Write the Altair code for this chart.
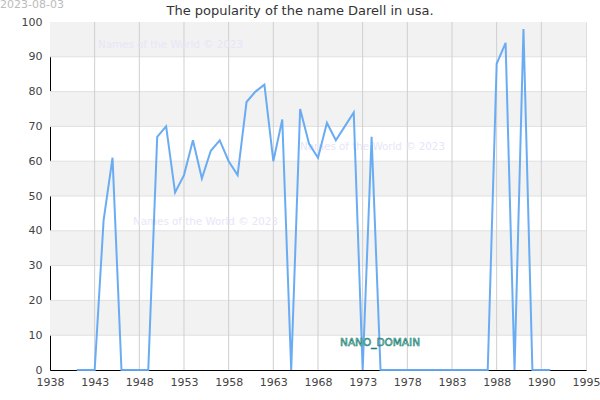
import altair as alt
import pandas as pd

# x positions (category index) and popularity values
positions = list(range(3, 57))
values = [0, 0, 0, 43, 61, 0, 0, 0, 0, 67, 70, 51, 56, 66, 55, 63, 66, 60, 56, 77,
          80, 82, 60, 72, 0, 75, 65, 61, 71, 66, 70, 74, 0, 67, 0, 0, 0, 0, 0, 0,
          0, 0, 0, 0, 0, 0, 0, 88, 94, 0, 98, 0, 0, 0]
tick_positions = [0, 5, 10, 15, 20, 25, 30, 35, 40, 45, 50, 55, 60]
tick_labels = ["1938", "1943", "1948", "1953", "1958", "1963", "1968", "1973",
               "1978", "1983", "1988", "1990", "1995"]
y_ticks = [0, 10, 20, 30, 40, 50, 60, 70, 80, 90, 100]
band_lo = [10, 30, 50, 70, 90]
band_hi = [20, 40, 60, 80, 100]
hgrid = [10, 20, 30, 40, 50, 60, 70, 80, 90]
vgrid = [5, 10, 15, 20, 25, 30, 35, 40, 45, 50, 55]

W, H = 536, 348

df = pd.DataFrame({"pos": positions, "value": values})
xscale = alt.Scale(domain=[0, 60], nice=False, zero=False)
yscale = alt.Scale(domain=[0, 100], nice=False)

label_expr = "[" + ",".join("'%s'" % t for t in tick_labels) + "][round(datum.value/5)]"

x_axis = alt.Axis(values=tick_positions, labelExpr=label_expr, title=None,
                  grid=False, ticks=False, domainColor="black",
                  labelColor="#444", labelFontSize=11, labelPadding=6,
                  labelFont="DejaVu Sans", labelFlush=False, labelOverlap=False)
y_axis = alt.Axis(values=y_ticks, title=None, grid=False, ticks=False,
                  domainColor="black", labelColor="#444", labelFontSize=11,
                  labelPadding=8, labelFont="DejaVu Sans", labelOverlap=False,
                  tickCount=11)

bands = alt.Chart(pd.DataFrame({"lo": band_lo, "hi": band_hi})).mark_rect(
    color="#f2f2f2"
).encode(
    x=alt.value(0), x2=alt.value(W),
    y=alt.Y("lo:Q", scale=yscale, axis=y_axis), y2="hi:Q",
)

hrules = alt.Chart(pd.DataFrame({"v": hgrid})).mark_rule(
    color="#e0e0e0", strokeWidth=1
).encode(y=alt.Y("v:Q", scale=yscale, axis=y_axis))

vrules = alt.Chart(pd.DataFrame({"v": vgrid})).mark_rule(
    color="#cfcfcf", strokeWidth=1
).encode(x=alt.X("v:Q", scale=xscale, axis=x_axis))

line = alt.Chart(df).mark_line(color="#62a8f2", strokeWidth=2, opacity=0.95).encode(
    x=alt.X("pos:Q", scale=xscale, axis=x_axis),
    y=alt.Y("value:Q", scale=yscale, axis=y_axis),
)

def txt(s, x, y, **kw):
    return alt.Chart(pd.DataFrame({"t": [s]})).mark_text(**kw).encode(
        x=alt.value(x), y=alt.value(y), text="t:N")

wm_kw = dict(align="left", baseline="middle", fontSize=10.3, color="#e6e6f8",
             font="DejaVu Sans")
wm1 = txt("Names of the World © 2023", 98 - 50, 45 - 22, **wm_kw)
wm2 = txt("Names of the World © 2023", 133 - 50, 222 - 22, **wm_kw)
wm3 = txt("Names of the World © 2023", 300 - 50, 147 - 22, **wm_kw)

title = txt("The popularity of the name Darell in usa.", 300 - 50, 15 - 22,
            align="center", baseline="alphabetic", fontSize=13, color="#333333",
            font="DejaVu Sans")
date = txt("2023-08-03", 0 - 50, 8 - 22, align="left", baseline="alphabetic",
           fontSize=11, color="#bbbbbb", font="DejaVu Sans")
nano = txt("NANO_DOMAIN", 380 - 50, 343 - 22, align="center", baseline="middle",
           fontSize=10.5, color="#b0ecdc", stroke="#1a7a70",
           strokeWidth=0.6, font="DejaVu Sans")

chart = alt.layer(bands, hrules, vrules, wm1, wm2, wm3, line, nano, title, date).properties(
    width=W, height=H,
    autosize=alt.AutoSizeParams(type="none"),
    padding={"left": 50, "top": 22, "right": 14, "bottom": 30},
).configure_view(stroke="black", strokeWidth=1).configure(background="white")

chart.save("out.html", embed_options={"renderer": "svg", "actions": False})
